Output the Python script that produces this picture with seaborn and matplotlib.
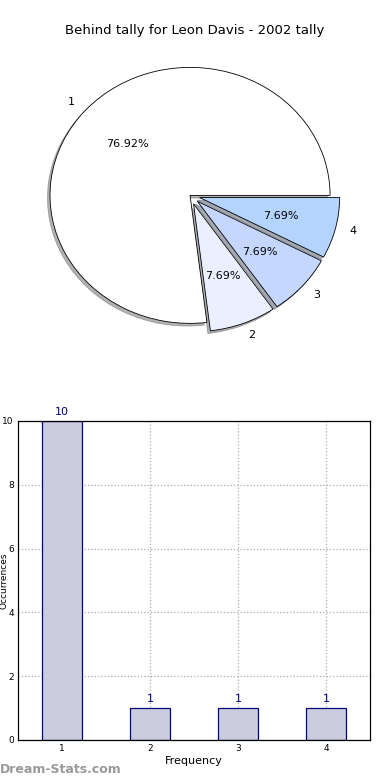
import matplotlib
matplotlib.use("Agg")
import matplotlib.pyplot as plt
import seaborn as sns
import pandas as pd

title = "Behind tally for Leon Davis - 2002 tally"
categories = [1, 2, 3, 4]
counts = [10, 1, 1, 1]
pie_labels = ["1", "2", "3", "4"]
pie_colors = ["#ffffff", "#eaf0ff", "#c6d7ff", "#b3d4ff"]
explode = [0.0, 0.07, 0.07, 0.07]

sns.set_theme(style="white")
plt.rcParams['font.family'] = ['DejaVu Sans']
plt.rcParams.update({"text.color": "black", "axes.labelcolor": "black",
                     "xtick.color": "black", "ytick.color": "black"})

fig = plt.figure(figsize=(3.9, 7.8), dpi=100)

# Pie
axp = fig.add_axes([0.0923, 0.569, 0.79, 0.361])
axp.pie(counts, labels=pie_labels, colors=pie_colors, explode=explode,
        autopct="%.2f%%", startangle=0, counterclock=True,
        shadow=dict(ox=-0.013, oy=-0.015, shade=0.6),
        wedgeprops=dict(edgecolor="black", linewidth=0.6),
        textprops=dict(fontsize=8, color="black"))
axp.set_xlim(-1.1, 1.1)
axp.set_ylim(-1.1, 1.1)
axp.set_aspect("auto")
axp.axis("off")
fig.text(0.5, 0.961, title, ha="center", va="center", fontsize=9.5, color="black")

# Bar
axb = fig.add_axes([0.046, 0.0513, 0.903, 0.409])
df = pd.DataFrame({"Frequency": categories, "Count": counts})
sns.barplot(data=df, x="Frequency", y="Count", native_scale=True, width=0.45,
            color="#ccccdf", edgecolor="#000080", linewidth=0.9, saturation=1,
            ax=axb, zorder=2)
for p in axb.patches:
    p.set_facecolor("#ccccdf")
axb.set_xlim(0.5, 4.5)
axb.set_ylim(0, 10)
axb.set_xticks(categories)
axb.set_xticklabels([str(c) for c in categories])
axb.set_yticks([0, 2, 4, 6, 8, 10])
axb.tick_params(labelsize=6.5, direction="in", length=3, pad=3, colors="black")
axb.grid(True, linestyle=":", color="#aaaaaa", linewidth=0.9, zorder=0)
axb.set_axisbelow(True)
for s in axb.spines.values():
    s.set_color("black")
    s.set_linewidth(0.9)
axb.set_xlabel("Frequency", fontsize=8, labelpad=2, color="black")
axb.set_ylabel("")
for c, v in zip(categories, counts):
    axb.text(c, v + 0.12, str(v), ha="center", va="bottom", fontsize=8,
             color="#000080")
fig.text(0.011, 0.256, "Occurrences", rotation=90, ha="center", va="center",
         fontsize=6.5, color="black")
fig.text(0.0, 0.013, "Dream-Stats.com", ha="left", va="center", fontsize=9,
         color="#999999", fontweight="bold")

fig.savefig("out.png", dpi=100)
